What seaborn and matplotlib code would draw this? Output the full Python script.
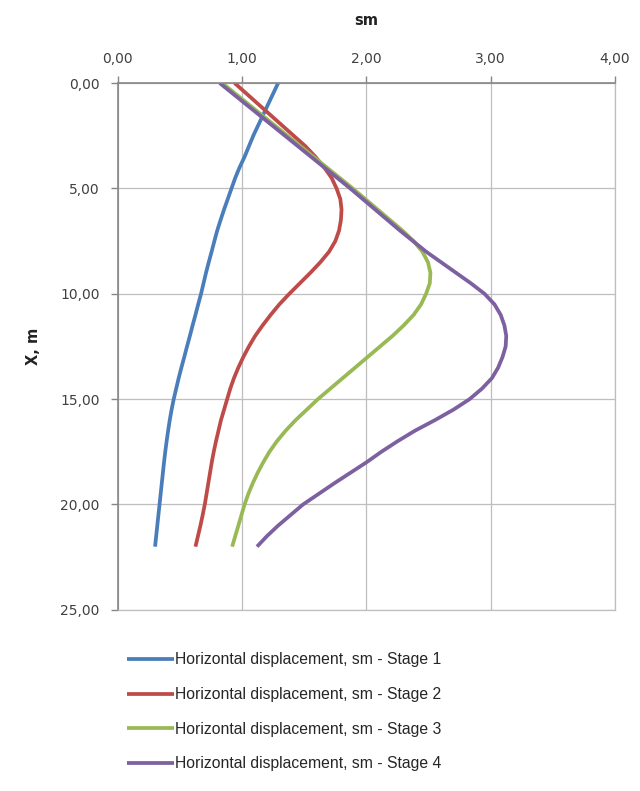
import matplotlib
matplotlib.use("Agg")
import matplotlib.pyplot as plt
from matplotlib.ticker import FuncFormatter
import seaborn as sns
import pandas as pd

# Depth below the top of the wall, m (every half metre)
depth = [i * 0.5 for i in range(45)]

# Horizontal displacement (sm) at each depth for every construction stage
stage1 = [1.29, 1.25, 1.21, 1.17, 1.13, 1.09, 1.055, 1.02, 0.98, 0.945,
          0.915, 0.885, 0.855, 0.827, 0.80, 0.777, 0.755, 0.732, 0.71, 0.69,
          0.67, 0.647, 0.625, 0.602, 0.58, 0.557, 0.535, 0.512, 0.49, 0.47,
          0.45, 0.433, 0.418, 0.405, 0.393, 0.382, 0.372, 0.363, 0.354, 0.345,
          0.336, 0.327, 0.318, 0.309, 0.30]
stage2 = [0.94, 1.035, 1.13, 1.225, 1.32, 1.415, 1.51, 1.59, 1.66, 1.72,
          1.76, 1.79, 1.80, 1.795, 1.78, 1.75, 1.70, 1.63, 1.55, 1.465,
          1.38, 1.30, 1.23, 1.165, 1.105, 1.055, 1.01, 0.97, 0.935, 0.905,
          0.88, 0.855, 0.83, 0.81, 0.79, 0.772, 0.756, 0.742, 0.728, 0.714,
          0.70, 0.683, 0.665, 0.645, 0.625]
stage3 = [0.84, 0.945, 1.05, 1.155, 1.26, 1.365, 1.47, 1.575, 1.68, 1.785,
          1.89, 1.99, 2.09, 2.19, 2.29, 2.38, 2.45, 2.495, 2.515, 2.51,
          2.48, 2.44, 2.38, 2.30, 2.21, 2.11, 2.01, 1.91, 1.81, 1.71,
          1.61, 1.52, 1.43, 1.35, 1.28, 1.22, 1.17, 1.125, 1.085, 1.05,
          1.02, 0.995, 0.97, 0.945, 0.92]
stage4 = [0.82, 0.925, 1.03, 1.135, 1.24, 1.345, 1.45, 1.555, 1.66, 1.765,
          1.87, 1.97, 2.07, 2.17, 2.27, 2.375, 2.48, 2.60, 2.72, 2.84,
          2.95, 3.03, 3.08, 3.11, 3.125, 3.12, 3.095, 3.06, 3.01, 2.93,
          2.83, 2.70, 2.55, 2.39, 2.25, 2.12, 2.00, 1.87, 1.74, 1.615,
          1.49, 1.39, 1.29, 1.20, 1.12]

stage_names = ["Horizontal displacement, sm - Stage 1",
               "Horizontal displacement, sm - Stage 2",
               "Horizontal displacement, sm - Stage 3",
               "Horizontal displacement, sm - Stage 4"]
colors = ["#4A7EBB", "#BE4B48", "#98B954", "#7D60A0"]

x_ticks = [0, 1, 2, 3, 4]
y_ticks = [0, 5, 10, 15, 20, 25]

frames = []
for name, vals in zip(stage_names, [stage1, stage2, stage3, stage4]):
    frames.append(pd.DataFrame({"disp": vals, "depth": depth, "stage": name}))
df = pd.concat(frames, ignore_index=True)

sns.set_style("white")
plt.rcParams["font.family"] = ["DejaVu Sans"]

fig = plt.figure(figsize=(6.4, 7.91), dpi=100)
ax = fig.add_axes([0.184, 0.229, 0.777, 0.666])

sns.lineplot(data=df, x="disp", y="depth", hue="stage", palette=colors,
             sort=False, estimator=None, linewidth=2.7, ax=ax,
             solid_capstyle="butt", solid_joinstyle="round")

ax.set_xlim(0, 4)
ax.set_ylim(25, 0)
ax.set_xticks(x_ticks)
ax.set_yticks(y_ticks)
fmt = FuncFormatter(lambda v, _: f"{v:.2f}".replace(".", ","))
ax.xaxis.set_major_formatter(fmt)
ax.yaxis.set_major_formatter(fmt)

ax.xaxis.tick_top()
ax.xaxis.set_label_position("top")
ax.grid(True, color="#BEBEBE", linewidth=0.9)
ax.set_axisbelow(True)

for side in ["top", "left"]:
    ax.spines[side].set_color("#868686")
    ax.spines[side].set_linewidth(1.2)
for side in ["right", "bottom"]:
    ax.spines[side].set_color("#BEBEBE")
    ax.spines[side].set_linewidth(0.9)

ax.tick_params(axis="x", top=True, bottom=False, length=5, width=1,
               color="#868686", pad=7, labelsize=10, labelcolor="#404040")
ax.tick_params(axis="y", left=True, length=5, width=1,
               color="#868686", pad=8, labelsize=10, labelcolor="#404040")

ax.set_xlabel("sm", fontsize=10.5, fontweight="bold", labelpad=20, color="#222222")
ax.set_ylabel("X, m", fontsize=10.5, fontweight="bold", labelpad=14, color="#222222")

handles, labels = ax.get_legend_handles_labels()
ax.legend_.remove()
fig.legend(handles, labels, loc="upper left", bbox_to_anchor=(0.176, 0.193),
           frameon=False, handlelength=3.0, handletextpad=0.05,
           labelspacing=1.25, prop={"family": "Liberation Sans", "size": 11.3})

fig.savefig("out.png", dpi=100, facecolor="white")
